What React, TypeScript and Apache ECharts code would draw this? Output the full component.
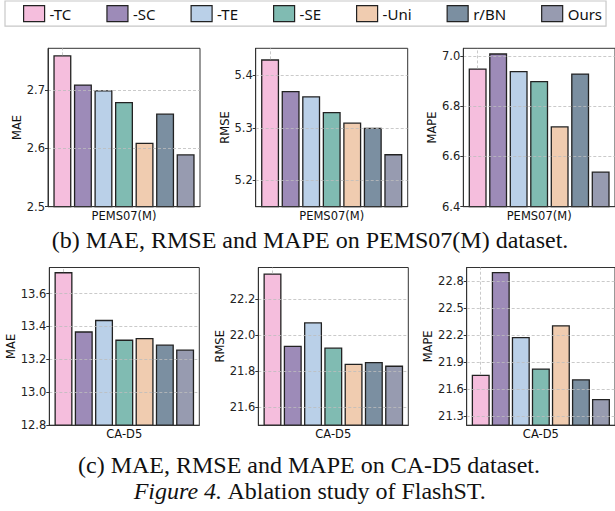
import React, { useEffect, useRef } from 'react';
import * as echarts from 'echarts';

// ---- data ----
const methods = ['-TC', '-SC', '-TE', '-SE', '-Uni', 'r/BN', 'Ours'];
const methodColors = ['#F5BEDD', '#9D8BB8', '#BAD0E8', '#80BBB2', '#F0CCB0', '#7B8FA1', '#979BB0'];

const pemsMAE = [2.76, 2.71, 2.7, 2.68, 2.61, 2.66, 2.59];
const pemsRMSE = [5.43, 5.37, 5.36, 5.33, 5.31, 5.3, 5.25];
const pemsMAPE = [6.95, 7.01, 6.94, 6.9, 6.72, 6.93, 6.54];
const cad5MAE = [13.73, 13.37, 13.44, 13.32, 13.33, 13.29, 13.26];
const cad5RMSE = [22.34, 21.94, 22.07, 21.93, 21.84, 21.85, 21.83];
const cad5MAPE = [21.76, 22.9, 22.18, 21.83, 22.31, 21.71, 21.49];

const pemsMAETicks = [2.5, 2.6, 2.7];
const pemsRMSETicks = [5.2, 5.3, 5.4];
const pemsMAPETicks = [6.4, 6.6, 6.8, 7.0];
const cad5MAETicks = [12.8, 13.0, 13.2, 13.4, 13.6];
const cad5RMSETicks = [21.6, 21.8, 22.0, 22.2];
const cad5MAPETicks = [21.3, 21.6, 21.9, 22.2, 22.5, 22.8];

const captionB = '(b) MAE, RMSE and MAPE on PEMS07(M) dataset.';
const captionC = '(c) MAE, RMSE and MAPE on CA-D5 dataset.';
const figureLabel = 'Figure 4.';
const figureTitle = ' Ablation study of FlashST.';

// ---- layout ----
const panels = [
  { values: pemsMAE, ticks: pemsMAETicks, min: 2.5, max: 2.772, yName: 'MAE', xName: 'PEMS07(M)', left: 48, top: 48.3, width: 152, height: 158.4, nameGap: 18.5 },
  { values: pemsRMSE, ticks: pemsRMSETicks, min: 5.15, max: 5.451, yName: 'RMSE', xName: 'PEMS07(M)', left: 255.7, top: 48.3, width: 152, height: 158.4, nameGap: 18 },
  { values: pemsMAPE, ticks: pemsMAPETicks, min: 6.4, max: 7.03, yName: 'MAPE', xName: 'PEMS07(M)', left: 463.3, top: 48.3, width: 152, height: 158.4, nameGap: 18 },
  { values: cad5MAE, ticks: cad5MAETicks, min: 12.8, max: 13.758, yName: 'MAE', xName: 'CA-D5', left: 49.3, top: 267.5, width: 150, height: 157.7, nameGap: 26 },
  { values: cad5RMSE, ticks: cad5RMSETicks, min: 21.5, max: 22.373, yName: 'RMSE', xName: 'CA-D5', left: 258.3, top: 267.5, width: 150, height: 157.7, nameGap: 25 },
  { values: cad5MAPE, ticks: cad5MAPETicks, min: 21.2, max: 22.95, yName: 'MAPE', xName: 'CA-D5', left: 466.7, top: 267.5, width: 150, height: 157.7, nameGap: 25 },
];

const axisFont = 'DejaVu Sans';
const frameColor = '#333';

export default function App() {
  const ref = useRef<HTMLDivElement>(null);

  useEffect(() => {
    if (!ref.current) return;
    document.body.style.margin = '0';
    const chart = echarts.init(ref.current, null, { renderer: 'svg' });

    const grid = panels.map((p) => ({
      left: p.left,
      top: p.top,
      width: p.width,
      height: p.height,
      show: true,
      borderColor: frameColor,
      borderWidth: 1,
      backgroundColor: 'transparent',
    }));

    const xAxis = panels.map((p, i) => ({
      type: 'value',
      gridIndex: i,
      min: -0.7,
      max: 6.7,
      name: p.xName,
      nameLocation: 'middle',
      nameGap: 3,
      nameTextStyle: { fontFamily: axisFont, fontSize: 11.5, color: '#111' },
      axisLabel: { show: false },
      axisTick: { show: false },
      splitLine: { show: false },
      axisLine: { show: true, onZero: false, lineStyle: { color: frameColor, width: 1 } },
      z: 5,
    }));

    const yAxis = panels.map((p, i) => ({
      type: 'value',
      gridIndex: i,
      min: p.min,
      max: p.max,
      name: p.yName,
      nameLocation: 'middle',
      nameGap: p.nameGap,
      nameTextStyle: { fontFamily: axisFont, fontSize: 11.5, color: '#111' },
      axisLine: { show: true, onZero: false, lineStyle: { color: frameColor, width: 1 } },
      axisTick: { show: true, length: 3, customValues: p.ticks, lineStyle: { color: frameColor } },
      axisLabel: {
        customValues: p.ticks,
        formatter: (v: number) => v.toFixed(1),
        margin: 3,
        fontFamily: axisFont,
        fontSize: 11.5,
        color: '#222',
      },
      splitLine: { show: true, lineStyle: { type: [3, 2], color: '#bdbdbd', width: 0.8 } },
      z: 5,
    }));

    const series: any[] = [];
    panels.forEach((p, pi) => {
      methods.forEach((m, j) => {
        series.push({
          type: 'bar',
          name: m,
          xAxisIndex: pi,
          yAxisIndex: pi,
          data: [[j, p.values[j]]],
          barWidth: 18,
          barGap: '-100%',
          itemStyle: { color: methodColors[j], borderColor: '#222', borderWidth: 1.3 },
          markLine:
            j === 0
              ? {
                  silent: true,
                  symbol: ['none', 'none'],
                  label: { show: false },
                  lineStyle: { type: [3, 2], color: '#bdbdbd', width: 0.8 },
                  data: [[{ coord: [0, p.values[0]] }, { coord: [0, p.max] }]],
                }
              : undefined,
        });
      });
    });

    const serif = 'Liberation Serif';
    const capSize = 24;

    chart.setOption({
      animation: false,
      backgroundColor: '#fff',
      legend: {
        data: methods,
        left: 5,
        top: 1,
        width: 612,
        itemWidth: 21,
        itemHeight: 16,
        itemGap: 35,
        padding: [4, 4, 4, 18],
        borderColor: '#c8c8c8',
        borderWidth: 1.2,
        backgroundColor: '#fff',
        icon: 'rect',
        itemStyle: { borderColor: '#222', borderWidth: 1.2 },
        textStyle: { fontFamily: 'Noto Sans', fontSize: 15, color: '#111' },
      },
      grid,
      xAxis,
      yAxis,
      series,
      graphic: [
        {
          type: 'text',
          x: 310,
          y: 240,
          style: { text: captionB, align: 'center', verticalAlign: 'middle', fontFamily: serif, fontSize: capSize, fill: '#111' },
        },
        {
          type: 'text',
          x: 309,
          y: 465,
          style: { text: captionC, align: 'center', verticalAlign: 'middle', fontFamily: serif, fontSize: capSize, fill: '#111' },
        },
        {
          type: 'text',
          x: 310,
          y: 491,
          style: {
            text: '{i|' + figureLabel + '}{n|' + figureTitle + '}',
            align: 'center',
            verticalAlign: 'middle',
            fontFamily: serif,
            fontSize: capSize,
            fill: '#111',
            rich: {
              i: { fontStyle: 'italic', fontFamily: serif, fontSize: capSize, fill: '#111' },
              n: { fontFamily: serif, fontSize: capSize, fill: '#111' },
            },
          },
        },
      ],
    });

    return () => chart.dispose();
  }, []);

  return <div ref={ref} style={{ position: 'absolute', left: 0, top: 0, width: 615, height: 511 }} />;
}
